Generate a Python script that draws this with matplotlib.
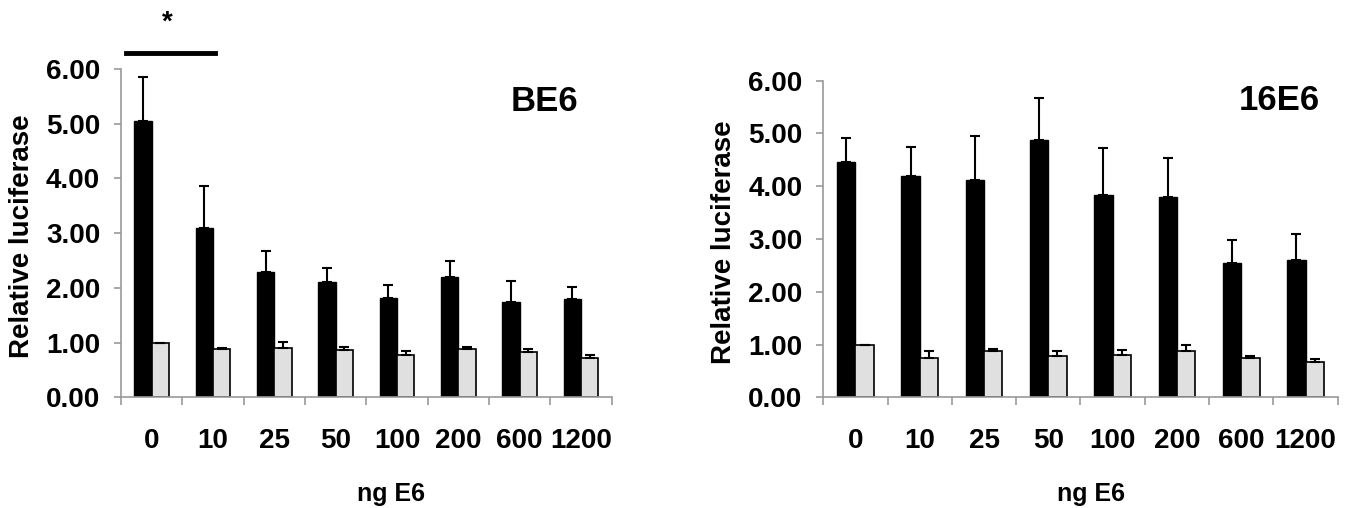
import numpy as np
import matplotlib
matplotlib.use("Agg")
import matplotlib.pyplot as plt

plt.rcParams['font.family'] = ['Liberation Sans', 'DejaVu Sans']
plt.rcParams['font.weight'] = 'bold'

doses = ["0", "10", "25", "50", "100", "200", "600", "1200"]

# BE6 panel
be6_black = [5.05, 3.10, 2.29, 2.10, 1.81, 2.20, 1.74, 1.79]
be6_black_sd = [0.81, 0.77, 0.38, 0.26, 0.24, 0.29, 0.39, 0.22]
be6_gray = [1.00, 0.89, 0.91, 0.87, 0.78, 0.89, 0.83, 0.71]
be6_gray_sd = [0.00, 0.01, 0.10, 0.05, 0.07, 0.03, 0.06, 0.06]

# 16E6 panel
e16_black = [4.46, 4.20, 4.11, 4.88, 3.83, 3.80, 2.55, 2.61]
e16_black_sd = [0.45, 0.55, 0.84, 0.80, 0.90, 0.73, 0.44, 0.48]
e16_gray = [1.00, 0.74, 0.88, 0.79, 0.80, 0.88, 0.74, 0.67]
e16_gray_sd = [0.00, 0.13, 0.03, 0.08, 0.10, 0.11, 0.04, 0.05]

fig = plt.figure(figsize=(13.55, 5.08), dpi=100)
ax1 = fig.add_axes([0.0893, 0.2179, 0.3621, 0.6463])
ax2 = fig.add_axes([0.6076, 0.2179, 0.3796, 0.6232])

w = 0.285
axis_grey = '#9a9a9a'


def panel(ax, black, black_sd, gray, gray_sd, title, tx, ty, lx):
    x = np.arange(len(doses))
    ekw = dict(ecolor='black', elinewidth=1.5, capsize=3.3, capthick=1.5)
    ax.bar(x - w / 2, black, w, color='black', edgecolor='black', linewidth=1,
           yerr=[np.zeros(len(x)), black_sd], error_kw=ekw)
    ax.bar(x + w / 2, gray, w, color='#e0e0e0', edgecolor='black', linewidth=1.2,
           yerr=[np.zeros(len(x)), gray_sd], error_kw=ekw)
    ax.set_xlim(-0.5, len(doses) - 0.5)
    ax.set_ylim(0, 6)
    ax.set_yticks(np.arange(0, 7, 1))
    ax.set_yticklabels(['%.2f' % v for v in np.arange(0, 7, 1)], fontsize=20, fontweight='bold')
    ax.set_xticks(x)
    ax.set_xticklabels(doses, fontsize=20, fontweight='bold')
    ax.set_xticks(np.arange(-0.5, len(doses)), minor=True)
    ax.tick_params(axis='x', which='major', length=0, pad=22)
    ax.tick_params(axis='x', which='minor', length=6, color=axis_grey, width=1.2)
    ax.tick_params(axis='y', length=5, color=axis_grey, width=1.2, pad=10)
    for s in ['top', 'right']:
        ax.spines[s].set_visible(False)
    for s in ['left', 'bottom']:
        ax.spines[s].set_color(axis_grey)
        ax.spines[s].set_linewidth(1.2)
    ax.set_ylabel('Relative luciferase', fontsize=20, fontweight='bold')
    ax.yaxis.set_label_coords(lx, 0.49)
    ax.text(tx, ty, title, transform=ax.transAxes, fontsize=25, fontweight='bold',
            ha='center', va='center')


panel(ax1, be6_black, be6_black_sd, be6_gray, be6_gray_sd, 'BE6', 0.863, 0.902, -0.176)
panel(ax2, e16_black, e16_black_sd, e16_gray, e16_gray_sd, '16E6', 0.886, 0.936, -0.168)

fig.text(391 / 1355, 0.014, 'ng E6', fontsize=18, fontweight='bold', ha='center', va='baseline')
fig.text(1091 / 1355, 0.014, 'ng E6', fontsize=18, fontweight='bold', ha='center', va='baseline')

# significance bar between 0 and 10
ax1.plot([-0.42, 1.03], [6.29, 6.29], color='black', lw=3.5, clip_on=False)
ax1.text(0.255, 6.85, '*', fontsize=20, fontweight='bold', ha='center', va='center')

fig.savefig('out.png', dpi=100)
